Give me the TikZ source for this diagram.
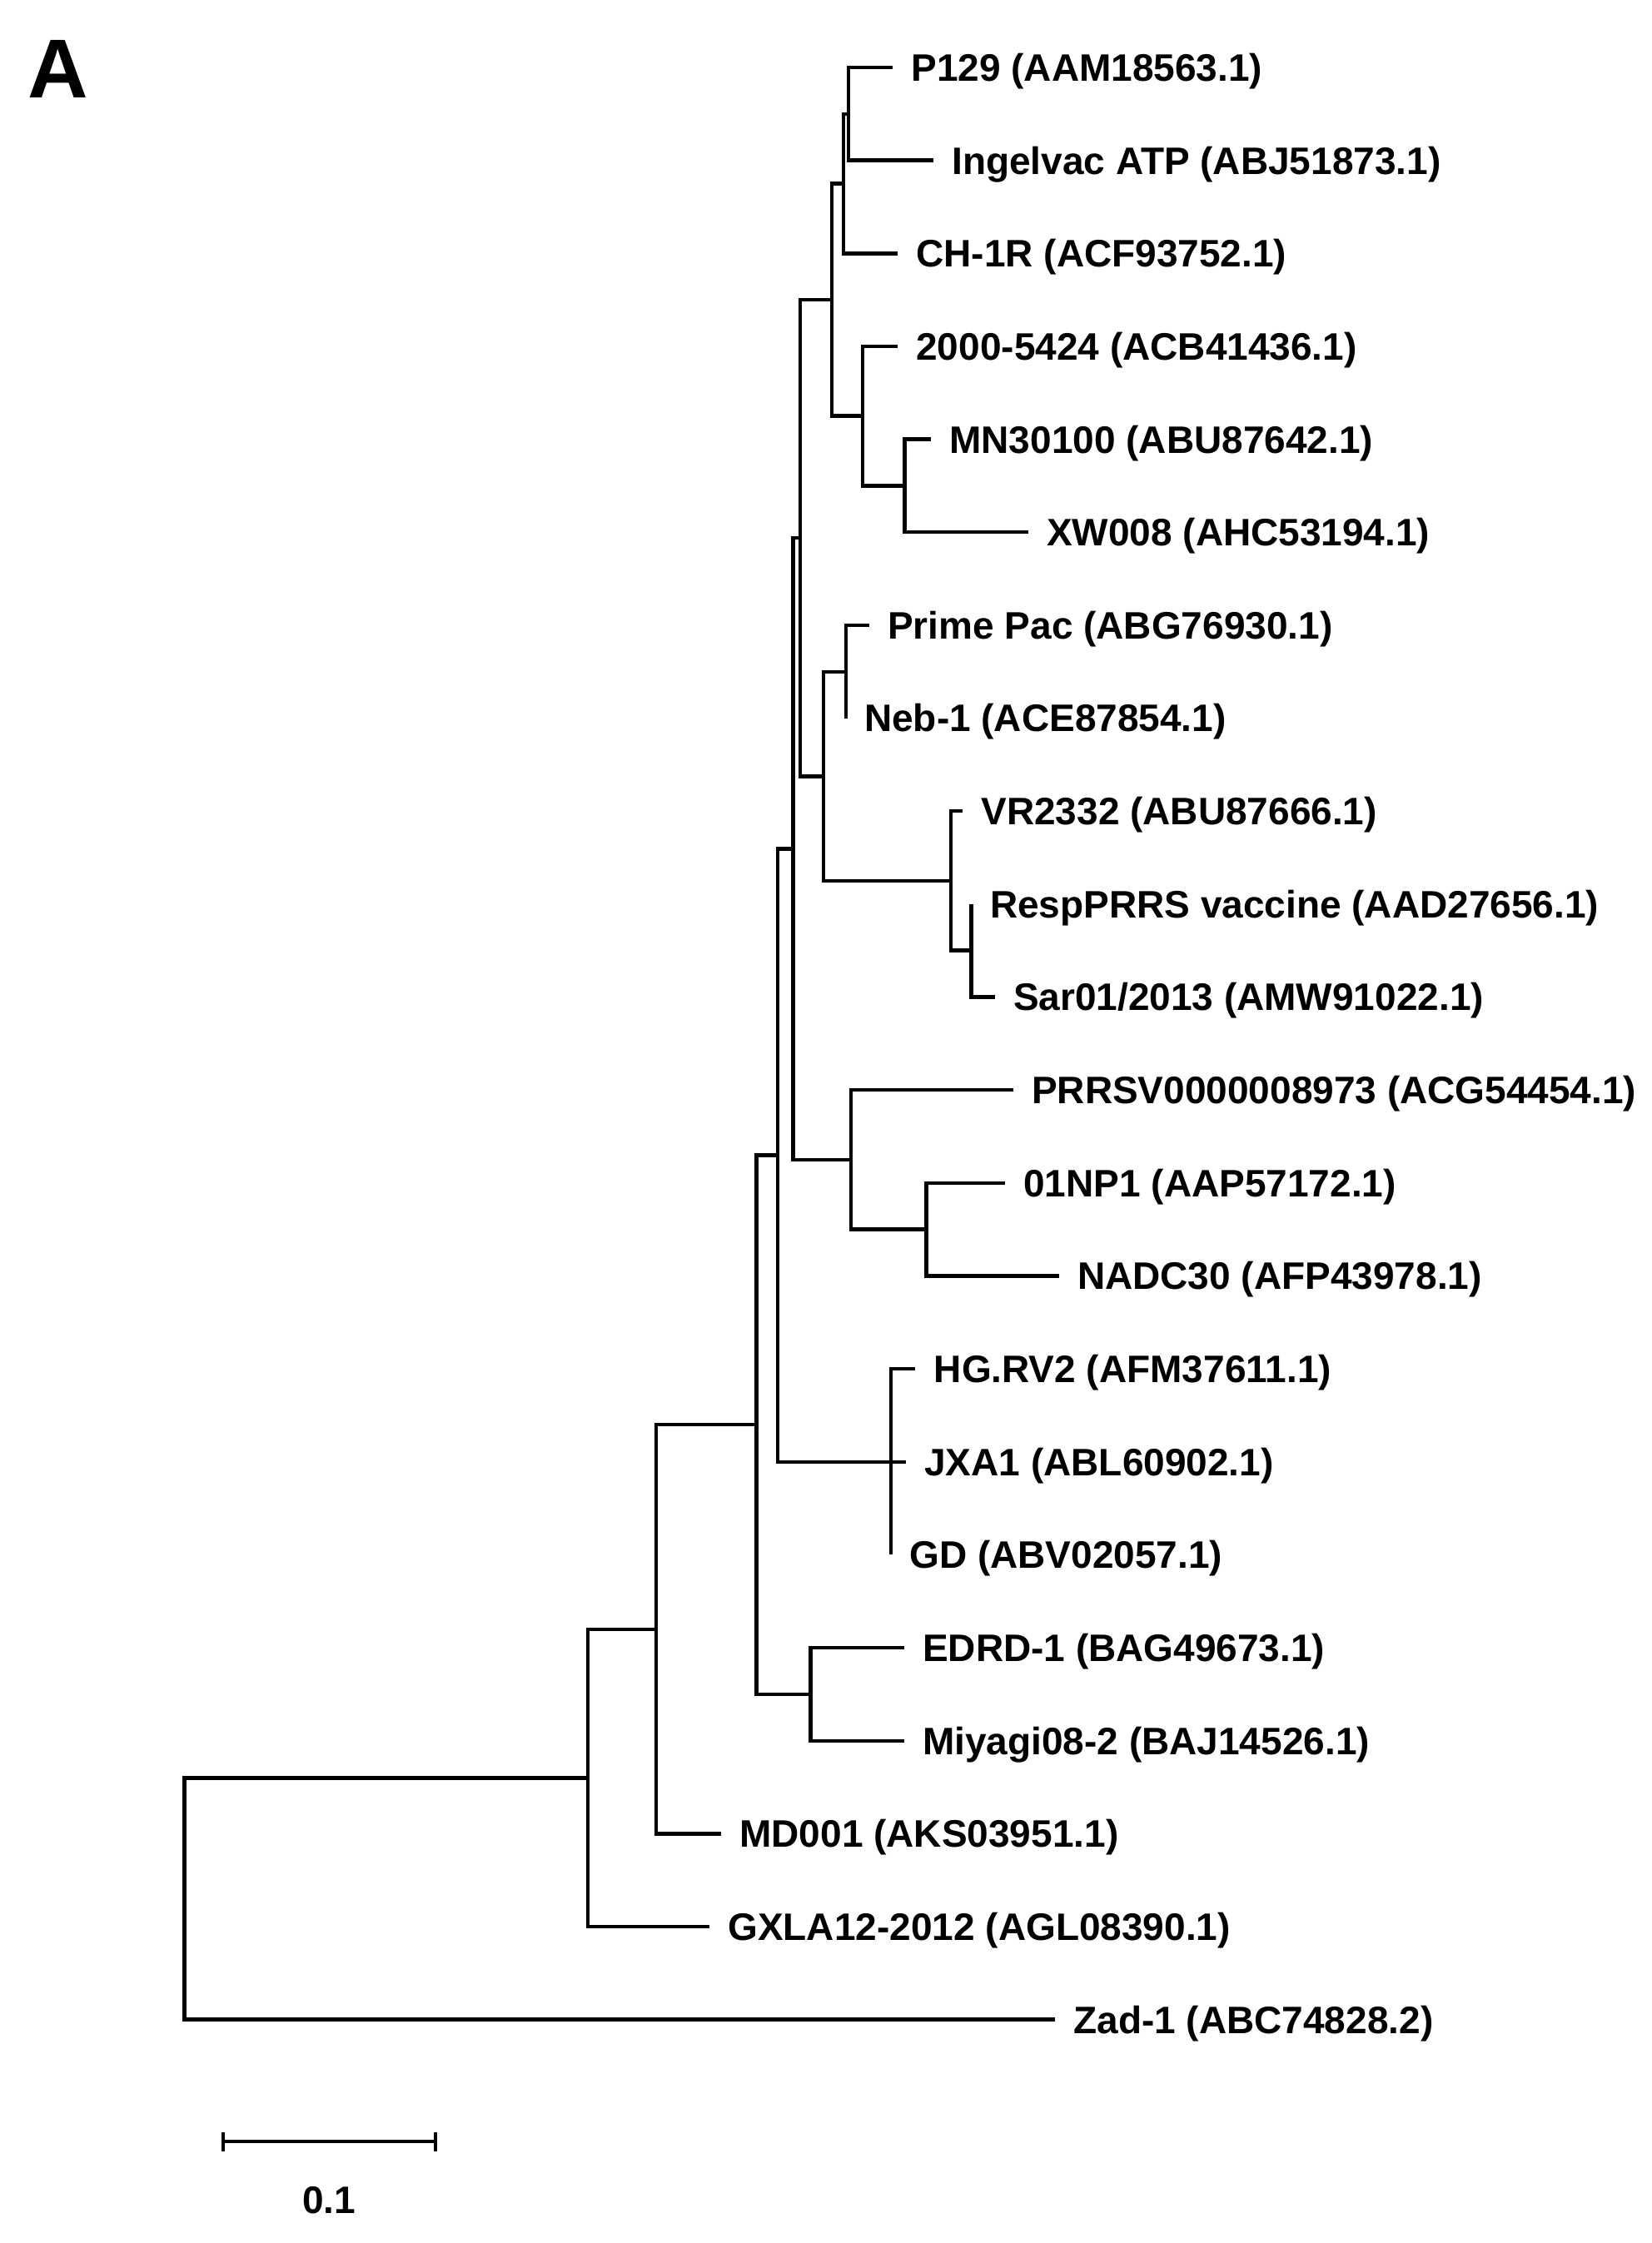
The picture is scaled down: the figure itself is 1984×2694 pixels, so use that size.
\documentclass[tikz,border=0pt]{standalone}
\usepackage{fontspec}
\setmainfont{Liberation Sans}
\begin{document}
\begin{tikzpicture}[x=0.5pt,y=-0.5pt,
  br/.style={draw=black, line width=2.2pt, line join=miter},
  leaf/.style={anchor=base west, inner sep=0pt, xshift=11pt, yshift=-8.2pt,
    font=\fontsize{23pt}{27pt}\selectfont\bfseries},
  lab/.style={inner sep=0pt, font=\fontsize{23pt}{27pt}\selectfont\bfseries}]
\useasboundingbox (0,0) rectangle (1984,2694);

% panel letter
\node[anchor=base west, inner sep=0pt, font=\fontsize{50.2pt}{60pt}\selectfont\bfseries] (panel) at (33,117) {A};

% leaf tips
\coordinate (t1) at (1072,81);
\coordinate (t2) at (1121,192.65);
\coordinate (t3) at (1078,304.3);
\coordinate (t4) at (1078,415.95);
\coordinate (t5) at (1118,527.6);
\coordinate (t6) at (1234.7,639.25);
\coordinate (t7) at (1043.8,750.9);
\coordinate (t8) at (1015.7,862.55);
\coordinate (t9) at (1156,974.2);
\coordinate (t10) at (1166.6,1085.85);
\coordinate (t11) at (1194.6,1197.5);
\coordinate (t12) at (1216.7,1309.15);
\coordinate (t13) at (1207,1420.8);
\coordinate (t14) at (1271.7,1532.45);
\coordinate (t15) at (1099.4,1644.1);
\coordinate (t16) at (1088,1755.75);
\coordinate (t17) at (1070,1867.4);
\coordinate (t18) at (1085.7,1979.05);
\coordinate (t19) at (1085.7,2090.7);
\coordinate (t20) at (866,2202.35);
\coordinate (t21) at (852,2314);
\coordinate (t22) at (1267,2425.65);

% internal nodes
\coordinate (nA) at (1019,136.83);
\coordinate (nB) at (1013,220.56);
\coordinate (nE) at (1086.6,583.43);
\coordinate (nD) at (1036,499.69);
\coordinate (nC) at (998.7,360.12);
\coordinate (nH) at (1015.7,806.73);
\coordinate (nK) at (1166.6,1141.68);
\coordinate (nI) at (1142,1057.94);
\coordinate (nG) at (989,932.33);
\coordinate (nF) at (961,646.23);
\coordinate (nN) at (1112.6,1476.63);
\coordinate (nM) at (1022,1392.89);
\coordinate (nJ) at (952.6,1019.56);
\coordinate (nO) at (1070,1755.75);
\coordinate (nL) at (934,1387.66);
\coordinate (nQ) at (973.5,2034.88);
\coordinate (nP) at (908.5,1711.27);
\coordinate (nR) at (788,1956.81);
\coordinate (nS) at (706,2135.4);
\coordinate (root) at (221.4,2280.5);

% branches
\draw[br] (nA) |- (t1);  \draw[br] (nA) |- (t2);
\draw[br] (nB) |- (nA);  \draw[br] (nB) |- (t3);
\draw[br] (nE) |- (t5);  \draw[br] (nE) |- (t6);
\draw[br] (nD) |- (t4);  \draw[br] (nD) |- (nE);
\draw[br] (nC) |- (nB);  \draw[br] (nC) |- (nD);
\draw[br] (nH) |- (t7);  \draw[br] (nH) |- (t8);
\draw[br] (nK) |- (t10); \draw[br] (nK) |- (t11);
\draw[br] (nI) |- (t9);  \draw[br] (nI) |- (nK);
\draw[br] (nG) |- (nH);  \draw[br] (nG) |- (nI);
\draw[br] (nF) |- (nC);  \draw[br] (nF) |- (nG);
\draw[br] (nN) |- (t13); \draw[br] (nN) |- (t14);
\draw[br] (nM) |- (t12); \draw[br] (nM) |- (nN);
\draw[br] (nJ) |- (nF);  \draw[br] (nJ) |- (nM);
\draw[br] (nO) |- (t15); \draw[br] (nO) |- (t16); \draw[br] (nO) |- (t17);
\draw[br] (nL) |- (nJ);  \draw[br] (nL) |- (nO);
\draw[br] (nQ) |- (t18); \draw[br] (nQ) |- (t19);
\draw[br] (nP) |- (nL);  \draw[br] (nP) |- (nQ);
\draw[br] (nR) |- (nP);  \draw[br] (nR) |- (t20);
\draw[br] (nS) |- (nR);  \draw[br] (nS) |- (t21);
\draw[br] (root) |- (nS); \draw[br] (root) |- (t22);

% labels
\node[leaf] (l1) at (t1) {P129 (AAM18563.1)};
\node[leaf] (l2) at (t2) {Ingelvac ATP (ABJ51873.1)};
\node[leaf] (l3) at (t3) {CH-1R (ACF93752.1)};
\node[leaf] (l4) at (t4) {2000-5424 (ACB41436.1)};
\node[leaf] (l5) at (t5) {MN30100 (ABU87642.1)};
\node[leaf] (l6) at (t6) {XW008 (AHC53194.1)};
\node[leaf] (l7) at (t7) {Prime Pac (ABG76930.1)};
\node[leaf] (l8) at (t8) {Neb-1 (ACE87854.1)};
\node[leaf] (l9) at (t9) {VR2332 (ABU87666.1)};
\node[leaf] (l10) at (t10) {RespPRRS vaccine (AAD27656.1)};
\node[leaf] (l11) at (t11) {Sar01/2013 (AMW91022.1)};
\node[leaf] (l12) at (t12) {PRRSV0000008973 (ACG54454.1)};
\node[leaf] (l13) at (t13) {01NP1 (AAP57172.1)};
\node[leaf] (l14) at (t14) {NADC30 (AFP43978.1)};
\node[leaf] (l15) at (t15) {HG.RV2 (AFM37611.1)};
\node[leaf] (l16) at (t16) {JXA1 (ABL60902.1)};
\node[leaf] (l17) at (t17) {GD (ABV02057.1)};
\node[leaf] (l18) at (t18) {EDRD-1 (BAG49673.1)};
\node[leaf] (l19) at (t19) {Miyagi08-2 (BAJ14526.1)};
\node[leaf] (l20) at (t20) {MD001 (AKS03951.1)};
\node[leaf] (l21) at (t21) {GXLA12-2012 (AGL08390.1)};
\node[leaf] (l22) at (t22) {Zad-1 (ABC74828.2)};

% scale bar
\coordinate (sb1) at (267.7,2572);
\coordinate (sb2) at (523,2572);
\draw[br] (sb1) -- (sb2);
\draw[br] ([yshift=5.75pt]sb1) -- ([yshift=-5.75pt]sb1);
\draw[br] ([yshift=5.75pt]sb2) -- ([yshift=-5.75pt]sb2);
\node[lab, anchor=base] (sblab) at (395,2658) {0.1};
\end{tikzpicture}
\end{document}
